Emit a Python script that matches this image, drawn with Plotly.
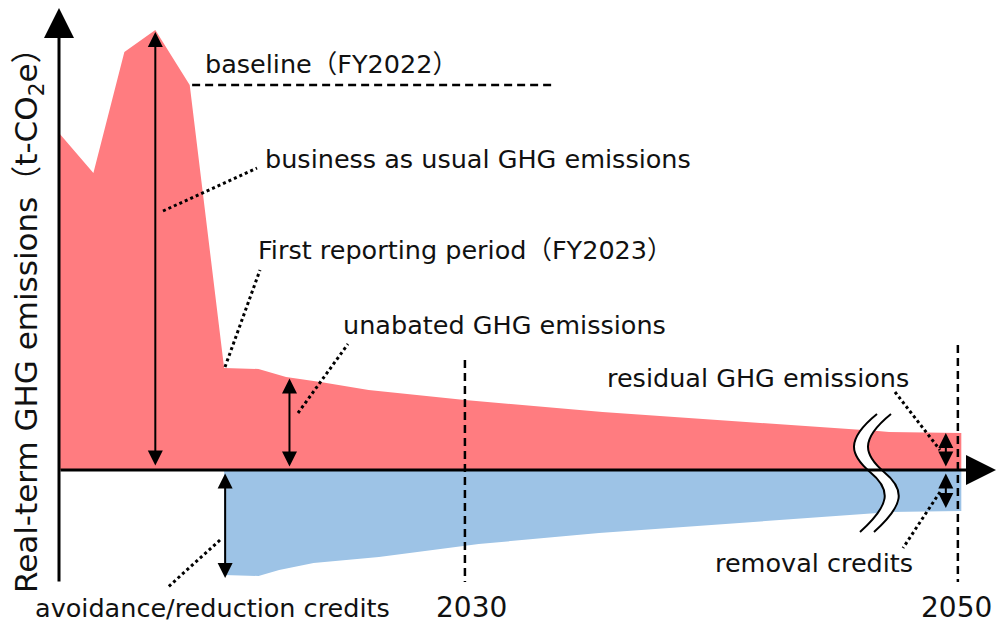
import plotly.graph_objects as go

# ---------------- data (conceptual, arbitrary units of t-CO2e) ----------------
red_years = [2018.2, 2019.2, 2020.1, 2021.0, 2022.0, 2023.0, 2024.0, 2024.8,
             2025.8, 2027.2, 2030.0, 2034.0, 2042.0, 2048.0, 2050.1]
red_values = [337, 297, 418, 440, 385, 102, 101, 93, 88, 80, 70, 58, 39, 38, 37]

blue_years = [2023.0, 2024.0, 2024.6, 2025.6, 2027.5, 2030.4, 2033.9,
              2042.0, 2048.0, 2050.1]
blue_values = [-105, -106, -100, -93, -87, -74, -63, -43, -42, -41]

tick_years = [2030, 2050]
tick_labels = ["2030", "2050"]

baseline_year = 2022.0
baseline_value = 385
peak_year = 2021.0
unabated_year = 2024.9
residual_year = 2049.65

# ---------------- axis mapping with a broken time axis ----------------
BREAK_YEAR = 2042.0
BREAK_GAP = 5.67
X0 = 2018.2            # where the vertical axis stands
PXY = 34.4             # pixels per year
W, H = 996, 627
ORIGIN_PX = 59
ZERO_PY = 470


def pos(year):
    return year if year <= BREAK_YEAR else year - BREAK_GAP


def X(px):
    return X0 + (px - ORIGIN_PX) / PXY


def Y(py):
    return ZERO_PY - py


def val_at(years, vals, yr):
    for i in range(len(years) - 1):
        if years[i] <= yr <= years[i + 1]:
            t = (yr - years[i]) / (years[i + 1] - years[i])
            return vals[i] + t * (vals[i + 1] - vals[i])
    return vals[-1]


RED = "#FF7C80"
BLUE = "#9DC3E6"
FONT = "DejaVu Sans, Noto Sans CJK JP"
FS = 25.5

fig = go.Figure()
fig.add_trace(go.Scatter(x=[pos(v) for v in red_years], y=red_values, mode="none",
                         fill="tozeroy", fillcolor=RED, hoverinfo="skip",
                         showlegend=False))
fig.add_trace(go.Scatter(x=[pos(v) for v in blue_years], y=blue_values, mode="none",
                         fill="tozeroy", fillcolor=BLUE, hoverinfo="skip",
                         showlegend=False))

shapes = []
DASH = dict(color="black", width=2.5, dash="8px,5px")
# dashed reference lines
shapes.append(dict(type="line", xref="x", yref="y", x0=pos(2030), x1=pos(2030),
                   y0=Y(360), y1=Y(582), line=DASH))
shapes.append(dict(type="line", xref="x", yref="y", x0=pos(2050), x1=pos(2050),
                   y0=Y(345), y1=Y(582), line=DASH))
shapes.append(dict(type="line", xref="x", yref="y", x0=baseline_year + 0.07, x1=X(553),
                   y0=baseline_value, y1=baseline_value, line=DASH))

# dotted leader lines
leaders = [((163, 211), (257, 168)),
           ((225, 367), (260, 270)),
           ((298, 413), (348, 344)),
           ((895, 392), (940, 450)),
           ((940, 492), (903, 548)),
           ((220, 540), (167, 588))]
for (ax_, ay_), (bx, by) in leaders:
    shapes.append(dict(type="line", xref="x", yref="y", x0=X(ax_), y0=Y(ay_),
                       x1=X(bx), y1=Y(by),
                       line=dict(color="black", width=3, dash="dot")))


# break symbol (two S curves with white gap)
def s_curve(dx):
    pts = [(877 + dx, 414), (845 + dx, 440), (850 + dx, 455), (870 + dx, 472),
           (892 + dx, 490), (890 + dx, 505), (860 + dx, 532)]
    return [(X(a), Y(b)) for a, b in pts]


left = s_curve(0)
right = s_curve(14)


def fmt(p):
    return f"{p[0]:.4f},{p[1]:.3f}"


fill_path = ("M " + fmt(left[0]) + " C " + fmt(left[1]) + " " + fmt(left[2]) + " " + fmt(left[3]) +
             " C " + fmt(left[4]) + " " + fmt(left[5]) + " " + fmt(left[6]) +
             " L " + fmt(right[6]) + " C " + fmt(right[5]) + " " + fmt(right[4]) + " " + fmt(right[3]) +
             " C " + fmt(right[2]) + " " + fmt(right[1]) + " " + fmt(right[0]) + " Z")
shapes.append(dict(type="path", xref="x", yref="y", path=fill_path,
                   fillcolor="white", line=dict(width=0)))
for c in (left, right):
    p = ("M " + fmt(c[0]) + " C " + fmt(c[1]) + " " + fmt(c[2]) + " " + fmt(c[3]) +
         " C " + fmt(c[4]) + " " + fmt(c[5]) + " " + fmt(c[6]))
    shapes.append(dict(type="path", xref="x", yref="y", path=p,
                       line=dict(color="black", width=2)))

annotations = []


def arrow(x0, y0, x1, y1, width=2, size=1.5, double=True, head=2):
    d = dict(x=x1, y=y1, ax=x0, ay=y0, xref="x", yref="y", axref="x", ayref="y",
             text="", showarrow=True, arrowhead=head, arrowsize=size,
             arrowwidth=width, arrowcolor="black", standoff=0, startstandoff=0)
    if double:
        d.update(arrowside="end+start", startarrowhead=head, startarrowsize=size)
    annotations.append(d)


# axes
arrow(X0, Y(583), X0, Y(8), width=3, size=2.0, double=False)
arrow(X0, 0, X(996), 0, width=3, size=2.0, double=False)

# double-headed measurement arrows
arrow(peak_year, 3, peak_year, max(red_values) - 2)
una_val = val_at(red_years, red_values, unabated_year)
arrow(unabated_year, 2, unabated_year, una_val - 1)
arrow(red_years[5] + 0.03, -2, red_years[5] + 0.03, min(blue_values) - 2)
arrow(pos(residual_year), 2, pos(residual_year), red_values[-1])
arrow(pos(residual_year), -2, pos(residual_year), blue_values[-1] + 3)


def label(text, x, y, anchor="left", size=FS):
    annotations.append(dict(x=x, y=y, xref="x", yref="y", text=text, showarrow=False,
                            xanchor=anchor, yanchor="middle",
                            font=dict(family=FONT, size=size, color="#111111")))


label("baseline（FY2022）", X(203), Y(64))
label("business as usual GHG emissions", X(263), Y(159))
label("First reporting period（FY2023）", X(256), Y(250))
label("unabated GHG emissions", X(341), Y(325))
label("residual GHG emissions", X(605), Y(378))
label("removal credits", X(713), Y(563))
label("avoidance/reduction credits", X(33), Y(608))
label(tick_labels[0], pos(tick_years[0]) + 0.2, Y(607), anchor="center", size=28)
label(tick_labels[1], pos(tick_years[1]) - 0.03, Y(607), anchor="center", size=28)

annotations.append(dict(x=X(28), y=Y(313), xref="x", yref="y",
                        text="Real-term GHG emissions（t-CO<sub>2</sub>e）",
                        showarrow=False, textangle=-90, xanchor="center", yanchor="middle",
                        font=dict(family=FONT, size=31, color="#111111")))

fig.update_layout(
    width=W, height=H, margin=dict(l=0, r=0, t=0, b=0),
    paper_bgcolor="white", plot_bgcolor="white",
    xaxis=dict(range=[X(0), X(W)], visible=False, fixedrange=True),
    yaxis=dict(range=[Y(H), Y(0)], visible=False, fixedrange=True),
    shapes=shapes, annotations=annotations, showlegend=False,
)

fig.write_html("out.html", config={"displayModeBar": False, "staticPlot": True},
               post_script="document.body.style.margin='0px';document.body.style.overflow='hidden';")
